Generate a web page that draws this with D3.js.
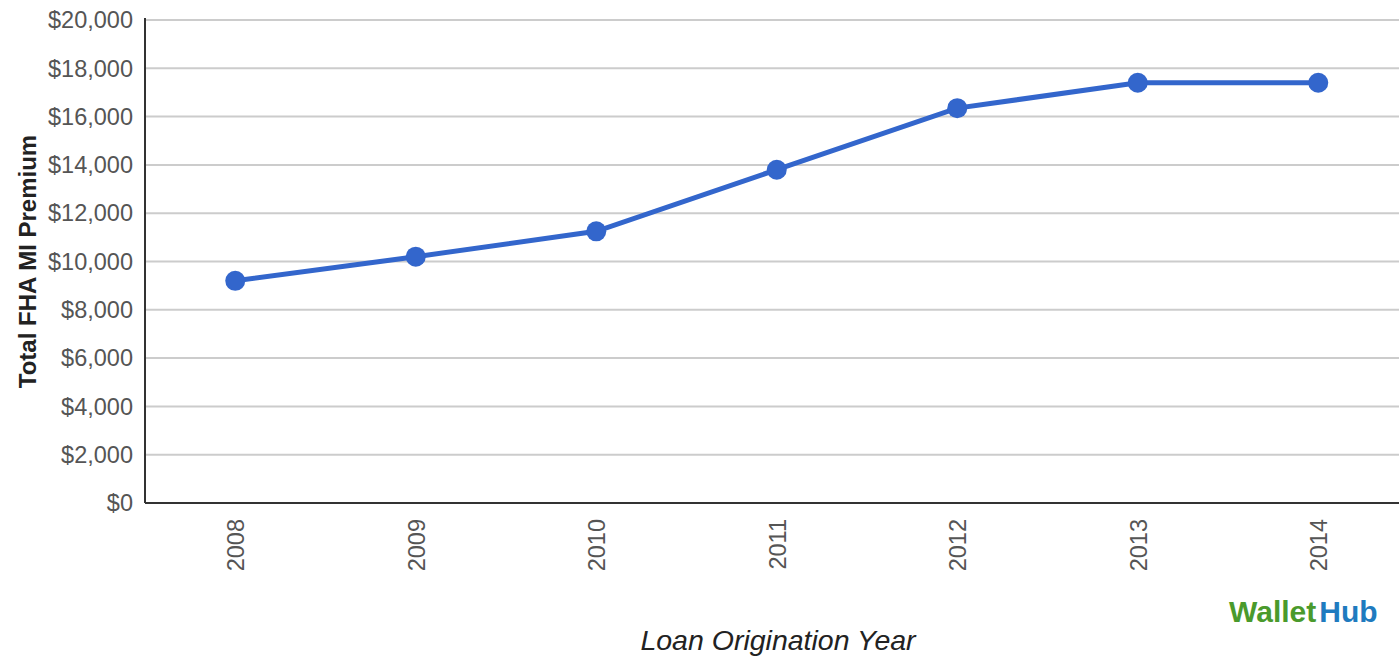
<!DOCTYPE html>
<html>
<head>
<meta charset="utf-8">
<script src="https://cdn.jsdelivr.net/npm/d3@7"></script>
<style>
  body { margin: 0; background: #fff; }
  text { font-family: "Liberation Sans", Arial, sans-serif; }
</style>
</head>
<body>
<div id="chart"></div>
<script>
const years = ["2008", "2009", "2010", "2011", "2012", "2013", "2014"];
const premium = [9200, 10200, 11250, 13800, 16350, 17400, 17400];
const yTicks = [0, 2000, 4000, 6000, 8000, 10000, 12000, 14000, 16000, 18000, 20000];

const width = 1399;
const height = 657;
const plotLeft = 145, plotTop = 20, plotBottom = 503;

const svg = d3.select("#chart")
    .append("svg")
    .attr("width", width)
    .attr("height", height);

const x = d3.scaleBand()
    .domain(years)
    .range([plotLeft, plotLeft + 7 * 180.5]);

const y = d3.scaleLinear()
    .domain([0, 20000])
    .range([plotBottom, plotTop]);

// gridlines
svg.append("g")
    .selectAll("line")
    .data(yTicks.filter(d => d > 0))
    .join("line")
    .attr("x1", plotLeft)
    .attr("x2", width)
    .attr("y1", d => y(d))
    .attr("y2", d => y(d))
    .attr("stroke", "#cccccc")
    .attr("stroke-width", 2);

// y tick labels
svg.append("g")
    .selectAll("text")
    .data(yTicks)
    .join("text")
    .attr("x", 133)
    .attr("y", d => y(d))
    .attr("dy", "0.35em")
    .attr("text-anchor", "end")
    .attr("font-size", 23.5)
    .attr("fill", "#555")
    .text(d => "$" + d3.format(",")(d));

// axis lines
svg.append("line")
    .attr("x1", plotLeft).attr("x2", plotLeft)
    .attr("y1", plotTop - 2).attr("y2", plotBottom)
    .attr("stroke", "#333").attr("stroke-width", 2);
svg.append("line")
    .attr("x1", plotLeft).attr("x2", width)
    .attr("y1", plotBottom).attr("y2", plotBottom)
    .attr("stroke", "#333").attr("stroke-width", 2);

// x tick labels (rotated)
svg.append("g")
    .selectAll("text")
    .data(years)
    .join("text")
    .attr("transform", d => `translate(${x(d) + x.bandwidth() / 2 + 9}, 519) rotate(-90)`)
    .attr("text-anchor", "end")
    .attr("font-size", 23.5)
    .attr("fill", "#555")
    .text(d => d);

// line + points
const pts = years.map((d, i) => ({ year: d, value: premium[i] }));
const line = d3.line()
    .x(d => x(d.year) + x.bandwidth() / 2)
    .y(d => y(d.value));

svg.append("path")
    .datum(pts)
    .attr("d", line)
    .attr("fill", "none")
    .attr("stroke", "#3366cc")
    .attr("stroke-width", 5);

svg.append("g")
    .selectAll("circle")
    .data(pts)
    .join("circle")
    .attr("cx", d => x(d.year) + x.bandwidth() / 2)
    .attr("cy", d => y(d.value))
    .attr("r", 10)
    .attr("fill", "#3366cc");

// axis titles
svg.append("text")
    .attr("transform", `translate(36, ${(plotTop + plotBottom) / 2}) rotate(-90)`)
    .attr("text-anchor", "middle")
    .attr("font-size", 24)
    .attr("font-weight", "bold")
    .attr("fill", "#222")
    .text("Total FHA MI Premium");

svg.append("text")
    .attr("x", 778)
    .attr("y", 650)
    .attr("text-anchor", "middle")
    .attr("font-size", 28.5)
    .attr("font-style", "italic")
    .attr("fill", "#222")
    .text("Loan Origination Year");

// logo
const logo = svg.append("text")
    .attr("x", 1229)
    .attr("y", 622)
    .attr("font-size", 30)
    .attr("font-weight", "bold");
logo.append("tspan").attr("fill", "#4a9a2c").text("Wallet");
logo.append("tspan").attr("fill", "#1f7bbf").attr("dx", 3).text("Hub");
</script>
</body>
</html>
